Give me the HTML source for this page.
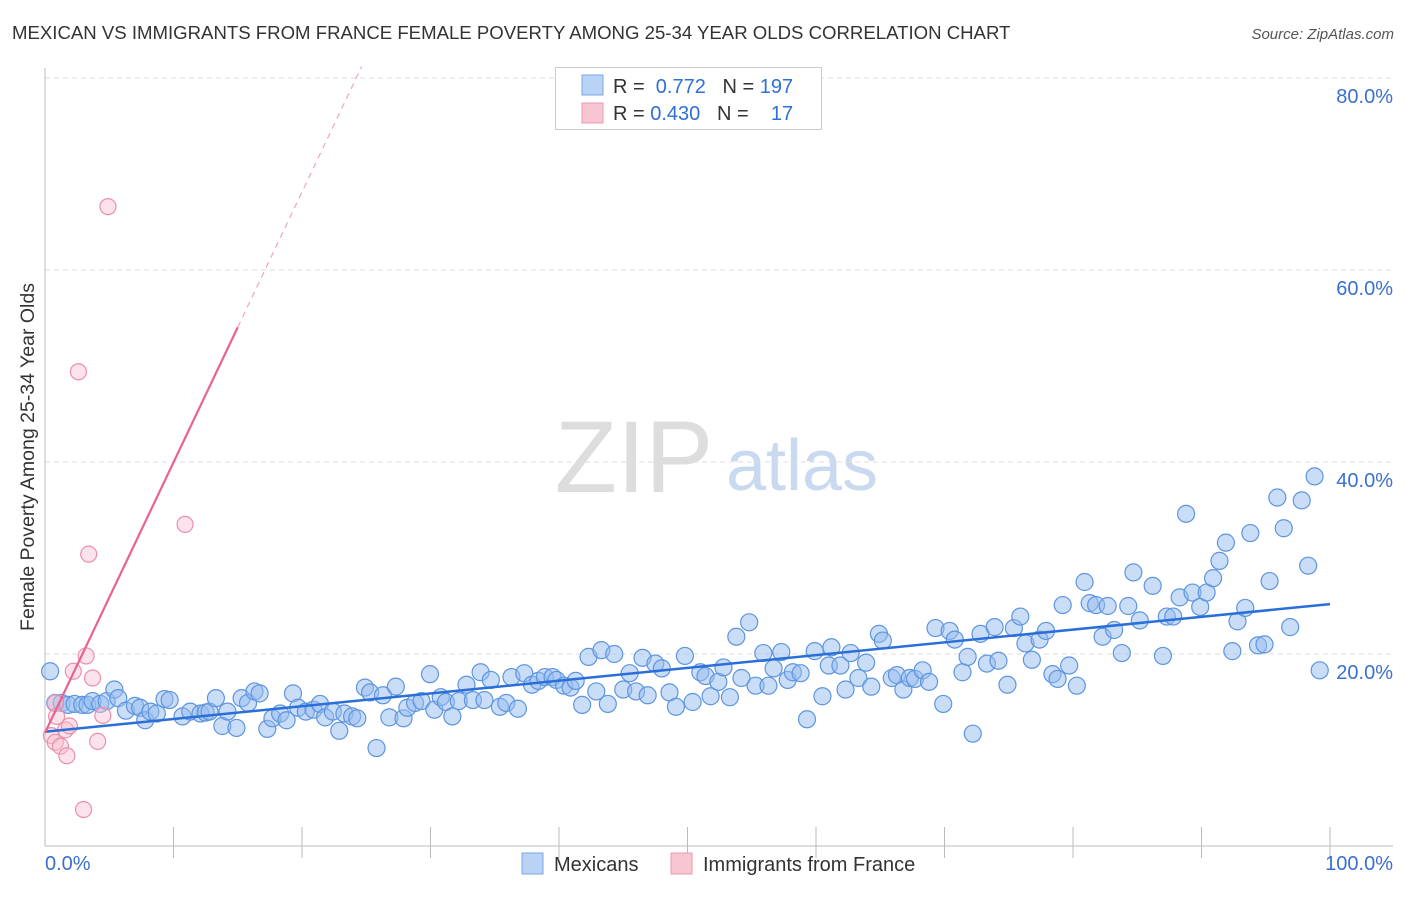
<!DOCTYPE html>
<html><head><meta charset="utf-8"><style>
body{margin:0;background:#fff;font-family:"Liberation Sans",sans-serif}
svg text{font-family:"Liberation Sans",sans-serif}
</style></head><body>
<svg id="c" width="1406" height="892" viewBox="0 0 1406 892">
<text x="12" y="39" font-size="18.6" fill="#333">MEXICAN VS IMMIGRANTS FROM FRANCE FEMALE POVERTY AMONG 25-34 YEAR OLDS CORRELATION CHART</text>
<text x="1394" y="39" font-size="15" fill="#555" font-style="italic" text-anchor="end">Source: ZipAtlas.com</text>
<g>
<text x="634" y="492" font-size="102" fill="#ddd" text-anchor="middle" font-family="Liberation Serif">ZIP</text>
<text x="802" y="490" font-size="72" fill="#c9d9ef" text-anchor="middle">atlas</text>
</g>
<g id="grid"></g>
<line x1="45" y1="68" x2="45" y2="846" stroke="#bbb"/>
<line x1="45" y1="846" x2="1393" y2="846" stroke="#bbb"/>
<g id="xt"></g>
<text x="45" y="870" font-size="20" fill="#3a6fd0">0.0%</text>
<text x="1393" y="870" font-size="20" fill="#3a6fd0" text-anchor="end">100.0%</text>
<text transform="translate(34,457) rotate(-90)" font-size="19.5" fill="#333" text-anchor="middle">Female Poverty Among 25-34 Year Olds</text>
<g id="pts"></g>
<g id="lines"></g>
<g>
<rect x="555.5" y="67.5" width="266" height="62" fill="#fff" stroke="#ccc"/>
<rect x="582" y="75" width="21" height="20" fill="#b9d3f5" stroke="#7aa6e6"/>
<rect x="582" y="103" width="21" height="20" fill="#f8c5d3" stroke="#ee9ab3"/>
<text x="613" y="93" font-size="20" fill="#333">R = <tspan fill="#2f6fd6">&#160;0.772</tspan>&#160;&#160;&#160;N = <tspan fill="#2f6fd6">197</tspan></text>
<text x="613" y="120" font-size="20" fill="#333">R = <tspan fill="#2f6fd6">0.430</tspan>&#160;&#160;&#160;N = <tspan fill="#2f6fd6">&#160;&#160;&#160;17</tspan></text>
</g>
<g>
<rect x="522" y="853" width="21" height="21" fill="#b9d3f5" stroke="#7aa6e6"/>
<text x="554" y="871" font-size="20" fill="#333">Mexicans</text>
<rect x="671" y="853" width="21" height="21" fill="#f8c5d3" stroke="#ee9ab3"/>
<text x="703" y="871" font-size="20" fill="#333">Immigrants from France</text>
</g>
</svg>
<script>
const yTicks=[20,40,60,80];
const yTickLabels=["20.0%","40.0%","60.0%","80.0%"];
const xTicks=[10,20,30,40,50,60,70,80,90,100];
const blueX=[0.4,0.8,1.3,1.8,2.3,2.9,3.3,3.7,4.3,4.8,5.4,5.7,6.3,7.0,7.4,7.8,8.2,8.7,9.3,9.7,10.7,11.3,12.1,12.5,12.8,13.3,13.8,14.2,14.9,15.3,15.8,16.3,16.7,17.3,17.7,18.3,18.8,19.3,19.7,20.3,20.9,21.4,21.8,22.4,22.9,23.3,23.9,24.3,24.9,25.3,25.8,26.3,26.8,27.3,27.9,28.2,28.8,29.3,29.96,30.3,30.8,31.2,31.7,32.2,32.8,33.3,33.9,34.2,34.7,35.4,35.9,36.3,36.8,37.3,37.9,38.4,38.9,39.5,39.8,40.4,40.9,41.3,41.8,42.3,42.9,43.3,43.8,44.3,45.0,45.5,46.0,46.5,46.9,47.5,48.0,48.6,49.1,49.8,50.4,51.0,51.4,51.8,52.4,52.8,53.3,53.8,54.2,54.8,55.3,55.9,56.3,56.7,57.3,57.8,58.2,58.8,59.3,59.9,60.5,61.0,61.2,61.9,62.3,62.7,63.3,63.9,64.3,64.9,65.2,65.9,66.3,66.8,67.3,67.7,68.3,68.8,69.3,69.9,70.4,70.8,71.4,71.8,72.2,72.8,73.3,73.9,74.2,74.9,75.4,75.9,76.3,76.8,77.4,77.9,78.4,78.8,79.2,79.7,80.3,80.9,81.3,81.8,82.3,82.7,83.2,83.8,84.3,84.7,85.2,86.2,87.0,87.3,87.8,88.3,88.8,89.3,89.9,90.4,90.9,91.4,91.9,92.4,92.8,93.4,93.8,94.4,94.9,95.3,95.9,96.4,96.9,97.8,98.3,98.8,99.2];
const blueY=[18.2,14.9,14.9,14.7,14.8,14.7,14.7,15.1,14.8,15.1,16.3,15.4,14.1,14.6,14.4,13.1,14.0,13.8,15.3,15.2,13.5,14.0,13.8,13.9,14.0,15.4,12.5,14.0,12.3,15.4,14.9,16.1,15.9,12.2,13.3,13.8,13.1,15.9,14.4,14.0,14.2,14.8,13.4,14.0,12.0,13.8,13.5,13.3,16.5,16.0,10.2,15.7,13.4,16.6,13.3,14.4,14.9,15.1,17.9,14.2,15.5,15.0,13.5,15.1,16.8,15.2,18.1,15.2,17.3,14.5,14.9,17.6,14.3,18.0,16.8,17.2,17.6,17.6,17.3,16.7,16.5,17.2,14.7,19.7,16.1,20.4,14.8,20.0,16.3,18.0,16.1,19.6,15.7,19.0,18.5,16.0,14.5,19.8,15.0,18.1,17.7,15.6,17.1,18.6,15.5,21.8,17.5,23.3,16.7,20.1,16.7,18.5,20.2,17.3,18.1,18.0,13.2,20.3,15.6,18.8,20.7,18.8,16.3,20.1,17.5,19.1,16.6,22.1,21.4,17.5,17.8,16.3,17.5,17.4,18.3,17.1,22.7,14.8,22.4,21.5,18.1,19.7,11.7,22.1,19.0,22.8,19.3,16.8,22.7,23.9,21.1,19.4,21.5,22.4,17.9,17.4,25.1,18.8,16.7,27.5,25.3,25.1,21.8,25.0,22.5,20.1,25.0,28.5,23.5,27.1,19.8,23.9,23.9,25.9,34.6,26.4,24.9,26.4,27.9,29.7,31.6,20.3,23.4,24.8,32.6,20.9,21.0,27.6,36.3,33.1,22.8,36.0,29.2,38.5,18.3];
const pinkX=[0.8,0.9,0.5,0.8,1.2,1.6,1.7,1.9,2.2,2.6,3.0,3.2,3.4,3.7,4.1,4.5,4.9,10.9];
const pinkY=[14.9,13.5,11.5,10.8,10.4,12.1,9.4,12.5,18.2,49.4,3.8,19.8,30.4,17.5,10.9,13.6,66.6,33.5];
const blueTrend=[11.9,25.2];
const pinkTrend=[11.8,2.816,15.0];
const NS="http://www.w3.org/2000/svg";
const X=v=>45+v*12.85, Y=v=>846-v*9.6;
function mk(t,a,p){const e=document.createElementNS(NS,t);for(const k in a)e.setAttribute(k,a[k]);p.appendChild(e);return e;}
const grid=document.getElementById('grid');
yTicks.forEach((t,i)=>{
 const l=mk('line',{x1:45,x2:1393,y1:Y(t),y2:Y(t),stroke:'#ddd','stroke-dasharray':'5,4'},grid);
 
 
 const tx=mk('text',{x:1393,y:Y(t)+25,'font-size':20,fill:'#3a6fd0','text-anchor':'end'},grid);
 tx.textContent=yTickLabels[i];
 
 
});
const xt=document.getElementById('xt');
xTicks.forEach(t=>{
 const l=mk('line',{x1:X(t),x2:X(t),y1:827,y2:858,stroke:'#bbb'},xt);
 
 
});
const pts=document.getElementById('pts');
blueX.forEach((x,i)=>{
 const c=mk('circle',{cx:X(x),cy:Y(blueY[i]),r:8.5,fill:'rgba(150,188,238,0.5)',stroke:'#5d95e0','stroke-width':1.2},pts);
 
 
});
pinkX.forEach((x,i)=>{
 const c=mk('circle',{cx:X(x),cy:Y(pinkY[i]),r:8,fill:'rgba(248,190,208,0.45)',stroke:'#ec8fab','stroke-width':1.2},pts);
 
 
});
const ln=document.getElementById('lines');
const b=mk('line',{x1:X(0),y1:Y(blueTrend[0]),x2:X(100),y2:Y(blueTrend[1]),stroke:'#2a6fd8','stroke-width':2.5},ln);


const pe=pinkTrend[2];
const p1=mk('line',{x1:X(0),y1:Y(pinkTrend[0]),x2:X(pe),y2:Y(pinkTrend[0]+pinkTrend[1]*pe),stroke:'#e8638e','stroke-width':2.2},ln);


const xe=(81.2-pinkTrend[0])/pinkTrend[1];
const p2=mk('line',{x1:X(pe),y1:Y(pinkTrend[0]+pinkTrend[1]*pe),x2:X(xe),y2:Y(pinkTrend[0]+pinkTrend[1]*xe),stroke:'#f0a5bd','stroke-width':1.2,'stroke-dasharray':'6,5'},ln);


</script>
</body></html>
